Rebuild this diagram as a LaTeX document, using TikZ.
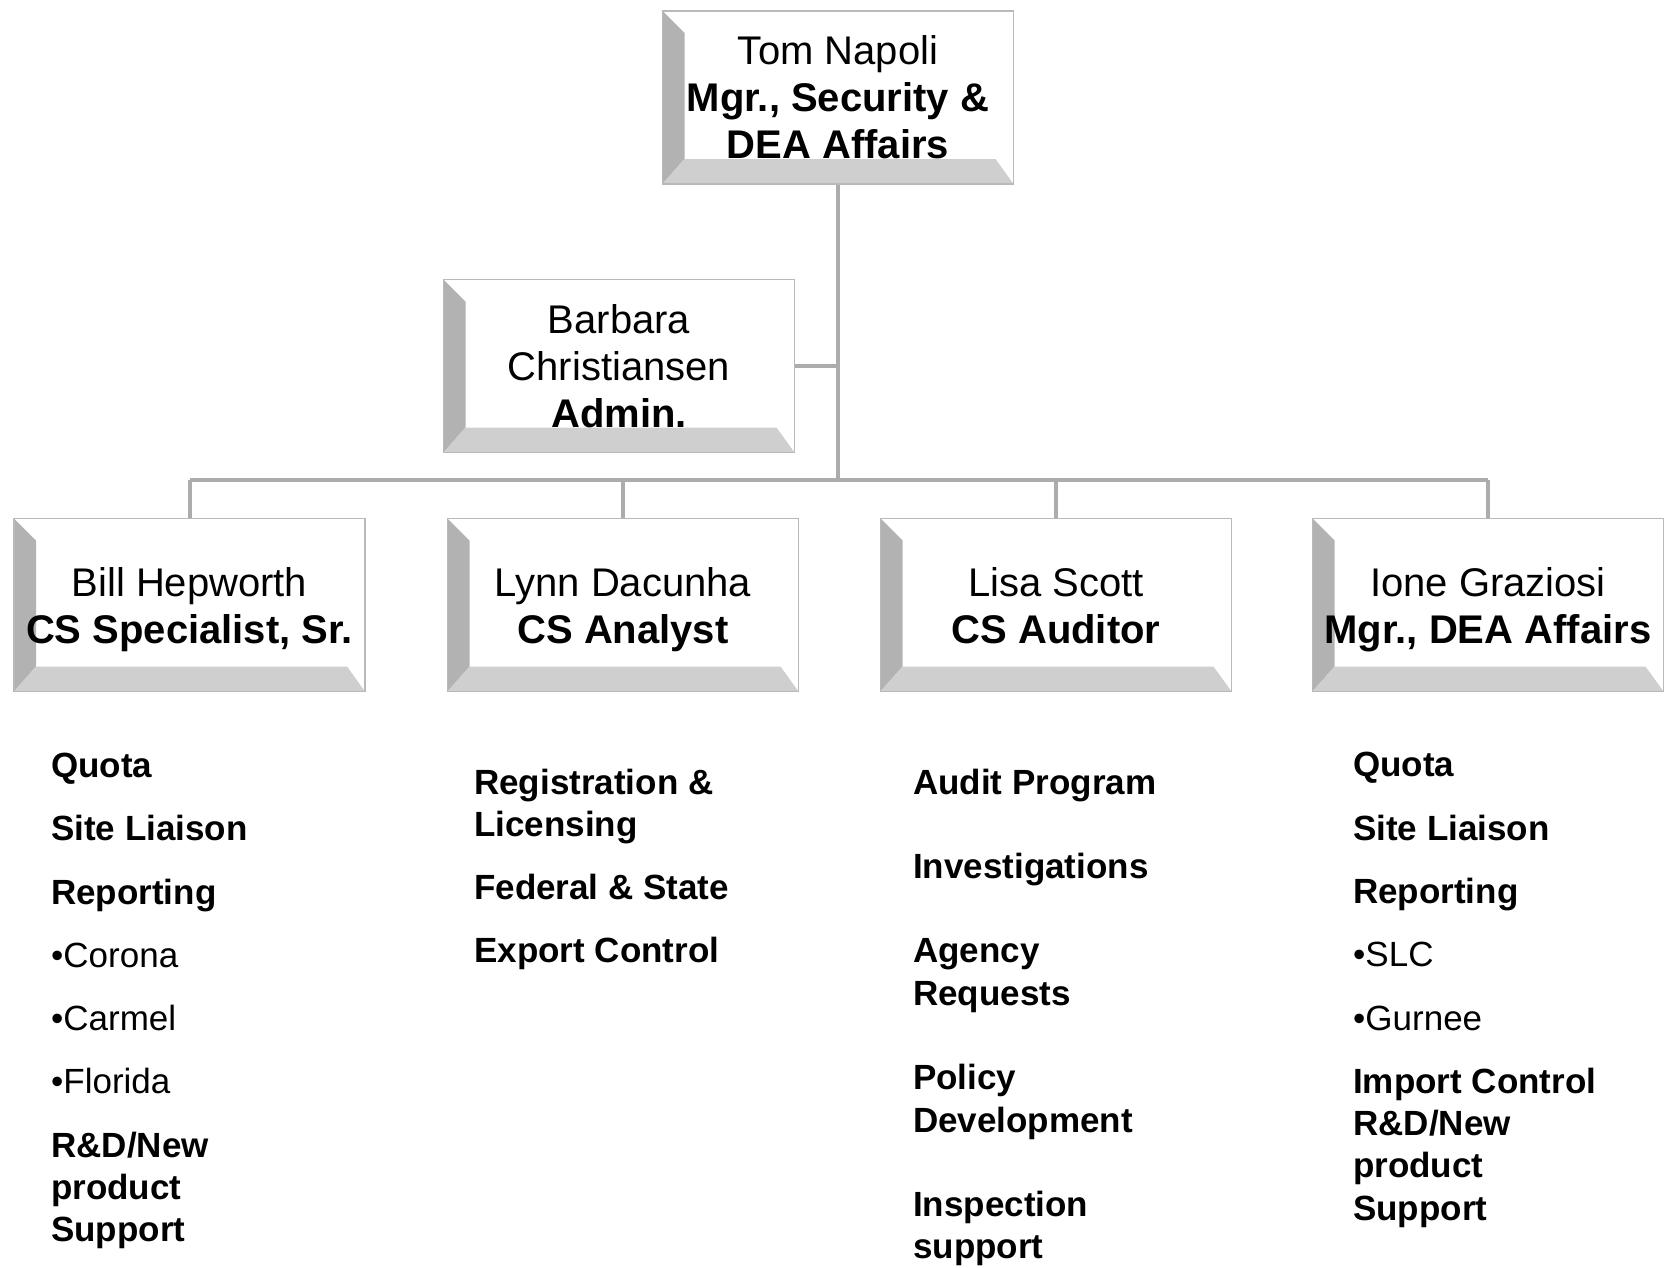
\documentclass[tikz,border=0pt]{standalone}
\usepackage{fontspec}
\setmainfont{Liberation Sans}
\usepackage{tikz}
\usetikzlibrary{positioning, calc}

\tikzset{
    orgbox/.style={draw=gray!55, line width=1.5pt, fill=white, inner sep=0pt,
        minimum width=351pt, minimum height=173pt, align=center, text depth=0pt,
        font=\fontsize{40}{47}\selectfont,
        path picture={
            \fill[gray!60] (path picture bounding box.north west) -- ++(22pt,-22pt)
                -- ($(path picture bounding box.south west)+(22pt,25pt)$)
                -- (path picture bounding box.south west) -- cycle;
            \fill[gray!38] (path picture bounding box.south west)
                -- ($(path picture bounding box.south west)+(22pt,25pt)$)
                -- ($(path picture bounding box.south east)+(-18pt,25pt)$)
                -- (path picture bounding box.south east) -- cycle;
        }},
    link/.style={draw=gray!65, line width=4pt},
    item/.style={anchor=base west, inner sep=0pt, font=\fontsize{35}{42}\selectfont\bfseries}
}

\begin{document}
\begin{tikzpicture}[x=1pt, y=-1pt]
    \useasboundingbox (0,0) rectangle (1669,1267);

    % boxes
    \node[orgbox] (napoli) at (838,97.5) {Tom Napoli\\\textbf{Mgr., Security \&}\\\textbf{DEA Affairs}};
    \node[orgbox] (barbara) at (619,366) {Barbara\\Christiansen\\\textbf{Admin.}};
    \node[orgbox] (bill) at (189.5,605) {Bill Hepworth\\\textbf{CS Specialist, Sr.}};
    \node[orgbox] (lynn) at (623,605) {Lynn Dacunha\\\textbf{CS Analyst}};
    \node[orgbox] (lisa) at (1056,605) {Lisa Scott\\\textbf{CS Auditor}};
    \node[orgbox] (ione) at (1488,605) {Ione Graziosi\\\textbf{Mgr., DEA Affairs}};

    % lines
    \coordinate (bus) at (838,480);
    \path[link] (napoli.south) -- (bus);
    \path[link] (barbara.east) -- (barbara.east -| bus);
    \path[link] (bill.north |- bus) -- (ione.north |- bus);
    \foreach \n in {bill, lynn, lisa, ione}
        \path[link] (\n.north) -- (\n.north |- bus);

    % duties
    \foreach \y/\t [count=\i] in {777/Quota, 840/Site Liaison, 904/Reporting,
        967/{\mdseries •Corona}, 1030/{\mdseries •Carmel}, 1093/{\mdseries •Florida},
        1157/{R\&D/New}, 1199/product, 1241/Support}
        \node[item] (billt\i) at (51,\y) {\t};
    \foreach \y/\t [count=\i] in {794/Registration \&, 836/Licensing,
        899/Federal \& State, 962/Export Control}
        \node[item] (lynnt\i) at (474,\y) {\t};
    \foreach \y/\t [count=\i] in {794/Audit Program, 878/Investigations, 962/Agency,
        1005/Requests, 1089/Policy, 1132/Development, 1216/Inspection, 1258/support}
        \node[item] (lisat\i) at (913,\y) {\t};
    \foreach \y/\t [count=\i] in {776/Quota, 840/Site Liaison, 903/Reporting,
        966/{\mdseries •SLC}, 1030/{\mdseries •Gurnee}, 1093/Import Control,
        1135/{R\&D/New}, 1177/product, 1220/Support}
        \node[item] (ionet\i) at (1353,\y) {\t};
\end{tikzpicture}
\end{document}
